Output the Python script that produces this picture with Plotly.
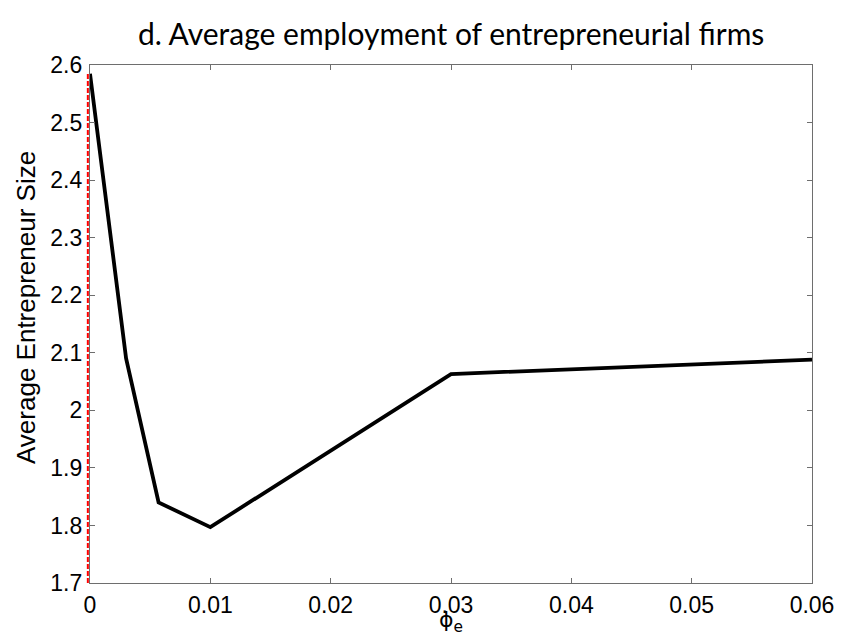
import plotly.graph_objects as go

# Average entrepreneur size as a function of phi_e
phi_e = [0.0, 0.003, 0.0057, 0.010, 0.030, 0.060]
avg_size = [2.585, 2.090, 1.840, 1.797, 2.063, 2.088]

x_ticks = [0, 0.01, 0.02, 0.03, 0.04, 0.05, 0.06]
x_tick_text = ["0", "0.01", "0.02", "0.03", "0.04", "0.05", "0.06"]
y_ticks = [1.7, 1.8, 1.9, 2.0, 2.1, 2.2, 2.3, 2.4, 2.5, 2.6]
y_tick_text = ["1.7", "1.8", "1.9", "2", "2.1", "2.2", "2.3", "2.4", "2.5", "2.6"]

x_range = [0, 0.06]
y_range = [1.7, 2.6]

title_text = "d. Average employment of entrepreneurial firms"
y_title = "Average Entrepreneur Size"

fig = go.Figure()
fig.add_trace(go.Scatter(
    x=phi_e, y=avg_size, mode="lines",
    line=dict(color="black", width=3.8),
    showlegend=False, hoverinfo="skip",
))

axis_common = dict(
    showgrid=False, zeroline=False, showline=True, mirror="ticks",
    linecolor="#6e6e6e", linewidth=1.2,
    ticks="inside", ticklen=5, tickwidth=1, tickcolor="#6e6e6e",
    tickfont=dict(family="Liberation Sans, Arial, sans-serif", size=23, color="black"),
)

fig.update_xaxes(range=x_range, tickvals=x_ticks, ticktext=x_tick_text,
                 ticklabelstandoff=1, **axis_common)
fig.update_yaxes(range=y_range, tickvals=y_ticks, ticktext=y_tick_text,
                 ticklabelstandoff=2, **axis_common)

# Dashed red marker at phi_e = 0, just left of the axis, up to the curve's start
top_frac = (avg_size[0] - y_range[0]) / (y_range[1] - y_range[0])
fig.add_shape(type="line", xref="paper", yref="paper",
              x0=-0.003, x1=-0.003, y0=0, y1=top_frac,
              line=dict(color="red", width=2, dash="5px,2px"))

fig.add_annotation(text=title_text, xref="paper", yref="paper",
                   x=0.5, y=1, xanchor="center", yanchor="middle", yshift=32,
                   showarrow=False,
                   font=dict(family="Lato, Open Sans, sans-serif", size=30, color="black"))
fig.add_annotation(text=y_title, xref="paper", yref="paper",
                   x=0, y=0.5, xanchor="center", yanchor="middle",
                   xshift=-64, yshift=16,
                   textangle=-90, showarrow=False,
                   font=dict(family="Liberation Sans, Arial, sans-serif", size=26, color="black"))
fig.add_annotation(text="ϕ<sub>e</sub>", xref="paper", yref="paper",
                   x=0.5, y=0, xanchor="center", yanchor="middle", yshift=-38,
                   showarrow=False,
                   font=dict(family="DejaVu Sans, sans-serif", size=22, color="black"))

fig.update_layout(
    width=853, height=637,
    margin=dict(l=90, r=41, t=65, b=54),
    plot_bgcolor="white", paper_bgcolor="white",
)

fig.write_html("out.html")
